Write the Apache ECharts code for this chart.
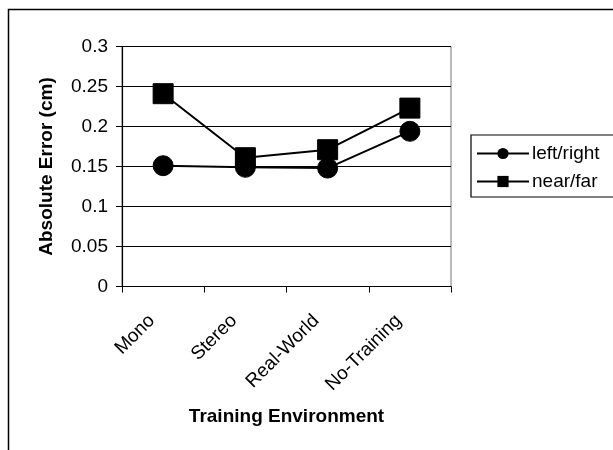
<!DOCTYPE html>
<html>
<head>
<meta charset="utf-8">
<script src="https://cdn.jsdelivr.net/npm/echarts@6/dist/echarts.min.js"></script>
<style>html,body{margin:0;padding:0;background:#fff}#c{width:613px;height:450px}</style>
</head>
<body>
<div id="c"></div>
<script>
var categories = ['Mono', 'Stereo', 'Real-World', 'No-Training'];
var leftRight = [0.151, 0.149, 0.148, 0.194];
var nearFar = [0.241, 0.161, 0.171, 0.223];
var yTicks = { min: 0, max: 0.3, interval: 0.05 };

var chart = echarts.init(document.getElementById('c'), null, { renderer: 'canvas' });
var font = '"Liberation Sans", Arial, sans-serif';
chart.setOption({
  backgroundColor: '#fff',
  animation: false,
  textStyle: { fontFamily: font, color: '#000' },
  graphic: [{
    type: 'rect', shape: { x: 8.5, y: 9.5, width: 700, height: 600 },
    style: { fill: 'none', stroke: '#000', lineWidth: 1.5 }, silent: true
  }],
  grid: { left: 122, top: 46.5, width: 329, height: 240, show: true, borderColor: '#777', borderWidth: 1, backgroundColor: 'transparent' },
  legend: {
    left: 471, top: 135, orient: 'vertical',
    data: ['left/right', 'near/far'],
    itemWidth: 52, itemHeight: 14, itemGap: 9,
    padding: [9, 40, 6, 5],
    borderColor: '#000', borderWidth: 1.2,
    textStyle: { fontFamily: font, fontSize: 19, color: '#000', padding: [0, 0, 0, -2] }
  },
  xAxis: {
    type: 'category', data: categories, boundaryGap: true,
    name: 'Training Environment', nameLocation: 'middle', nameGap: 121,
    nameTextStyle: { fontFamily: font, fontSize: 19, fontWeight: 'bold', color: '#000' },
    axisLine: { lineStyle: { color: '#000', width: 1.2 } },
    axisTick: { show: true, length: 6, inside: false, lineStyle: { color: '#000' } },
    axisLabel: { rotate: 45, margin: 20, padding: [0, 16, 0, 0], fontFamily: font, fontSize: 19, color: '#000' },
    splitLine: { show: false }
  },
  yAxis: {
    type: 'value', min: yTicks.min, max: yTicks.max, interval: yTicks.interval,
    name: 'Absolute Error (cm)', nameLocation: 'middle', nameGap: 66, nameRotate: 90,
    nameTextStyle: { fontFamily: font, fontSize: 19, fontWeight: 'bold', color: '#000' },
    axisLine: { show: true, lineStyle: { color: '#000', width: 1.2 } },
    axisTick: { show: true, length: 6, lineStyle: { color: '#000' } },
    axisLabel: { margin: 14, fontFamily: font, fontSize: 19, color: '#000' },
    splitLine: { show: true, lineStyle: { color: '#000', width: 1 } }
  },
  series: [
    {
      name: 'left/right', type: 'line', data: leftRight,
      symbol: 'circle', symbolSize: 20,
      lineStyle: { color: '#000', width: 2 },
      itemStyle: { color: '#000', borderColor: '#000' }
    },
    {
      name: 'near/far', type: 'line', data: nearFar,
      symbol: 'rect', symbolSize: 20,
      lineStyle: { color: '#000', width: 2 },
      itemStyle: { color: '#000', borderColor: '#000' }
    }
  ]
});
</script>
</body>
</html>
